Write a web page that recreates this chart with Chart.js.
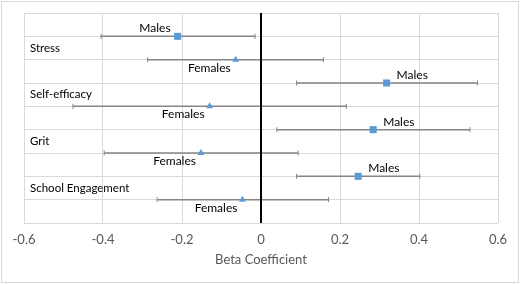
<!DOCTYPE html>
<html>
<head>
<meta charset="utf-8">
<script src="https://cdn.jsdelivr.net/npm/chart.js@4"></script>
<style>
  body { margin: 0; background: #fff; }
  #box { position: absolute; left: 1px; top: 1px; width: 516px; height: 280px; border: 1px solid #d9d9d9; }
</style>
</head>
<body>
<div id="box"><canvas id="chart"></canvas></div>
<script>
// outcomes, top to bottom
const outcomes = ['Stress', 'Self-efficacy', 'Grit', 'School Engagement'];
const groups = ['Males', 'Females'];

// beta estimates and 95% CI
const maleBeta = [-0.211, 0.318, 0.284, 0.246];
const maleLow = [-0.405, 0.090, 0.040, 0.090];
const maleHigh = [-0.015, 0.548, 0.529, 0.402];
const femaleBeta = [-0.064, -0.130, -0.152, -0.047];
const femaleLow = [-0.287, -0.476, -0.397, -0.263];
const femaleHigh = [0.158, 0.216, 0.094, 0.171];

const xTicks = [-0.6, -0.4, -0.2, 0, 0.2, 0.4, 0.6];

const FONT = 'Lato, "Noto Sans", sans-serif';
const BLUE = '#5b9bd5';
const BAR = '#858585';

// each outcome gets two rows: males then females
const maleRows = outcomes.map((_, i) => 2 * i + 1);
const femaleRows = outcomes.map((_, i) => 2 * i + 2);

const errorBars = [];
outcomes.forEach((_, i) => {
  errorBars.push([{ x: maleLow[i], y: maleRows[i] }, { x: maleHigh[i], y: maleRows[i] }]);
  errorBars.push([{ x: femaleLow[i], y: femaleRows[i] }, { x: femaleHigh[i], y: femaleRows[i] }]);
});

const datasets = [
  {
    label: groups[0],
    data: maleBeta.map((v, i) => ({ x: v, y: maleRows[i] })),
    pointStyle: 'rect', pointRadius: 5, backgroundColor: BLUE, borderColor: BLUE, pointBorderWidth: 0
  },
  {
    label: groups[1],
    data: femaleBeta.map((v, i) => ({ x: v, y: femaleRows[i] })),
    pointStyle: 'triangle', pointRadius: 4, backgroundColor: BLUE, borderColor: BLUE, pointBorderWidth: 0
  },
  {
    type: 'line', label: 'zero',
    data: [{ x: 0, y: 0 }, { x: 0, y: 9 }],
    borderColor: '#000', borderWidth: 2, pointRadius: 0
  }
];
errorBars.forEach((bar, k) => {
  datasets.push({
    type: 'line', label: 'ci' + k, data: bar,
    borderColor: BAR, borderWidth: 1.5,
    pointStyle: 'line', pointRotation: 90, pointRadius: 2.5,
    pointBorderColor: BAR, pointBorderWidth: 1
  });
});

// outcome names and Males/Females data labels
const labelPlugin = {
  id: 'labels',
  afterDatasetsDraw(chart) {
    const { ctx, chartArea, scales } = chart;
    const xs = scales.x, ys = scales.y;
    ctx.save();
    ctx.fillStyle = '#000';
    ctx.textBaseline = 'middle';
    ctx.textAlign = 'left';
    ctx.font = '11.5px ' + FONT;
    outcomes.forEach((name, i) => {
      ctx.fillText(name, chartArea.left + 6, ys.getPixelForValue(2 * i + 1.5));
    });
    ctx.font = '12px ' + FONT;
    outcomes.forEach((_, i) => {
      const mx = xs.getPixelForValue(maleBeta[i]);
      const my = ys.getPixelForValue(maleRows[i]);
      if (i === 0) {
        ctx.textAlign = 'right';
        ctx.fillText(groups[0], mx - 7, my - 8);
      } else {
        ctx.textAlign = 'left';
        ctx.fillText(groups[0], mx + 10, my - 8);
      }
      const fx = xs.getPixelForValue(femaleBeta[i]);
      const fy = ys.getPixelForValue(femaleRows[i]);
      ctx.textAlign = 'right';
      ctx.fillText(groups[1], fx - 5, fy + 8);
    });
    ctx.restore();
  }
};

new Chart(document.getElementById('chart'), {
  type: 'scatter',
  data: { datasets },
  options: {
    responsive: true,
    maintainAspectRatio: false,
    animation: false,
    layout: { padding: { top: 11, right: 20, bottom: 0, left: 0 } },
    plugins: { legend: { display: false }, tooltip: { enabled: false } },
    scales: {
      x: {
        type: 'linear', min: -0.6, max: 0.6,
        afterBuildTicks: s => { s.ticks = xTicks.map(v => ({ value: v })); },
        afterFit: s => { s.height = 59; },
        grid: { color: '#d9d9d9', drawTicks: false },
        border: { display: false },
        ticks: { color: '#595959', font: { family: FONT, size: 13 }, padding: 9,
          callback: v => (Math.round(v * 10) / 10).toString() },
        title: { display: true, text: 'Beta Coefficient', color: '#595959',
          font: { family: FONT, size: 13 }, padding: { top: 0, bottom: 14 } }
      },
      y: {
        type: 'linear', min: 0, max: 9, reverse: true,
        afterFit: s => { s.width = 22; },
        grid: { color: '#d9d9d9', drawTicks: false },
        border: { display: false },
        ticks: { display: false, stepSize: 1 }
      }
    }
  },
  plugins: [labelPlugin]
});
</script>
</body>
</html>
